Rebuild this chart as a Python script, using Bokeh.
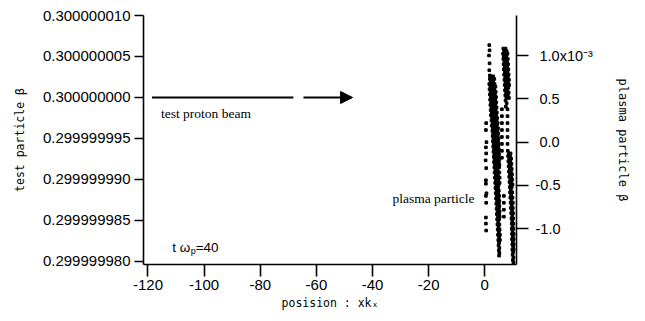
from bokeh.plotting import figure
from bokeh.models import (Range1d, LinearAxis, FixedTicker, PrintfTickFormatter,
                          Label, Arrow, NormalHead)
from bokeh.embed import file_html
from bokeh.resources import INLINE

# ---------------- data ----------------
x_ticks = [-120, -100, -80, -60, -40, -20, 0]
beta_ticks = [0.29999998, 0.299999985, 0.29999999, 0.299999995, 0.3, 0.300000005, 0.30000001]
plasma_ticks = [-1.0, -0.5, 0.0, 0.5, 1.0]
plasma_tick_labels = ["-1.0", "-0.5", "\u00a00.0", "\u00a00.5", "\u00a01.0x10\u207b\u00b3"]

# test proton beam (position, beta)
beam_x = [-118.6, -68.2]
beam_beta = [0.3, 0.3]

# plasma particles: beta in units of 1e-3, rows of (beta, [positions])
sparse_left = [
    (1.12, [1.6]), (1.06, [1.7]), (1.00, [1.5]), (0.91, [1.7]), (0.83, [1.6]), (0.77, [1.8]),
    (0.22, [0.5]), (0.14, [0.4]), (0.00, [0.6]), (-0.06, [0.4]), (-0.13, [0.5]),
    (-0.21, [0.3]), (-0.30, [0.5]), (-0.44, [0.4]), (-0.48, [0.4]), (-0.59, [0.6]),
    (-0.62, [0.4]), (-0.70, [0.5]), (-0.87, [0.4]), (-0.94, [0.4]), (-1.02, [0.5]),
]
main_band = [
    (0.76, [2.2, 3.0]), (0.73, [1.8, 2.6, 3.4]), (0.70, [2.1, 3.0]), (0.67, [1.6, 2.5, 3.5]),
    (0.64, [2.0, 2.9, 3.8]), (0.61, [1.7, 2.6, 3.4]), (0.58, [2.1, 3.0, 3.9]),
    (0.55, [1.8, 2.7, 3.6]), (0.52, [2.2, 3.1, 4.0]), (0.49, [1.9, 2.8, 3.7]),
    (0.46, [2.3, 3.2, 4.1]), (0.43, [2.0, 2.9, 3.8]), (0.40, [2.4, 3.3, 4.2]),
    (0.37, [2.1, 3.0, 3.9]), (0.34, [2.5, 3.4, 4.3]), (0.31, [2.2, 3.1, 4.0]),
    (0.28, [2.6, 3.5, 4.4]), (0.25, [2.4, 3.3, 4.2]), (0.22, [2.8, 3.7, 4.6]),
    (0.19, [2.5, 3.4, 4.3]), (0.16, [2.9, 3.8, 4.7]), (0.13, [2.7, 3.6, 4.5]),
    (0.10, [3.0, 3.9, 4.8]), (0.07, [2.8, 3.7, 4.6]), (0.04, [3.1, 4.0, 4.9]),
    (0.01, [2.9, 3.8, 4.7]), (-0.02, [3.2, 4.1, 5.0]), (-0.05, [3.0, 3.9, 4.8]),
    (-0.08, [3.3, 4.2, 5.0]), (-0.11, [3.1, 4.0, 4.9]), (-0.14, [3.4, 4.3, 5.1]),
    (-0.17, [3.2, 4.1, 4.9]), (-0.20, [3.5, 4.4, 5.2]), (-0.23, [3.3, 4.2, 5.0]),
    (-0.26, [3.6, 4.5, 5.2]), (-0.29, [3.4, 4.3, 5.1]), (-0.32, [3.8, 4.6]),
    (-0.35, [3.5, 4.4, 5.2]), (-0.38, [3.9, 4.7]), (-0.41, [3.6, 4.5, 5.3]),
    (-0.44, [4.0, 4.8]), (-0.47, [3.7, 4.6, 5.3]), (-0.50, [4.1, 4.9]),
    (-0.53, [3.8, 4.7]), (-0.56, [4.2, 5.0]), (-0.59, [3.9, 4.8]), (-0.62, [4.3, 5.1]),
    (-0.65, [4.0, 4.9]), (-0.68, [4.4, 5.2]), (-0.71, [4.1, 5.0]), (-0.74, [4.5, 5.2]),
    (-0.77, [4.2, 5.0]), (-0.80, [4.6, 5.3]), (-0.83, [4.3, 5.1]), (-0.86, [4.7, 5.3]),
    (-0.89, [4.4, 5.1]), (-0.92, [4.8]), (-0.95, [4.5, 5.2]), (-0.98, [4.9]),
    (-1.01, [4.6, 5.3]), (-1.04, [5.0]), (-1.07, [4.7, 5.4]), (-1.10, [5.1]),
    (-1.13, [4.8, 5.4]), (-1.16, [5.1]), (-1.19, [4.9]), (-1.22, [5.2]),
    (-1.25, [5.0]), (-1.28, [5.2]), (-1.31, [5.1]),
]
right_top_band = [
    (1.08, [6.6, 7.4]), (1.05, [6.9, 7.8]), (1.02, [6.5, 7.3, 8.1]), (0.99, [6.8, 7.7]),
    (0.96, [6.6, 7.5, 8.2]), (0.93, [7.0, 7.9]), (0.90, [6.7, 7.6, 8.3]), (0.87, [7.1, 8.0]),
    (0.84, [6.8, 7.7, 8.4]), (0.81, [7.2, 8.1]), (0.78, [6.9, 7.8, 8.5]), (0.75, [7.3, 8.2]),
    (0.72, [7.0, 7.9, 8.6]), (0.69, [7.4, 8.3]), (0.66, [7.1, 8.0, 8.7]), (0.63, [7.5, 8.4]),
    (0.60, [7.2, 8.1]), (0.57, [7.6, 8.5]), (0.54, [7.3, 8.2]), (0.51, [7.7, 8.6]),
    (0.48, [7.4]), (0.45, [7.8]), (0.41, [7.5]),
]
dotted_columns = [
    (0.38, [6.1, 8.1]), (0.30, [6.1, 8.1]), (0.22, [6.1, 8.1]), (0.14, [6.1, 8.1]),
    (0.06, [6.1, 8.1]), (-0.02, [6.1, 8.1]), (-0.10, [6.1]), (-0.18, [6.1]),
    (-0.62, [6.8]), (-0.70, [6.8]), (-0.78, [6.8]), (-0.86, [6.8]),
]
right_bottom_band = [
    (-0.10, [8.2]), (-0.13, [8.6, 9.2]), (-0.16, [8.3, 9.0]), (-0.19, [8.7, 9.4]),
    (-0.22, [8.4, 9.1]), (-0.25, [8.8, 9.5]), (-0.28, [8.5, 9.2]), (-0.31, [8.9, 9.6]),
    (-0.34, [8.6, 9.3]), (-0.37, [9.0, 9.7]), (-0.40, [8.7, 9.4]), (-0.43, [9.1, 9.8]),
    (-0.46, [8.8, 9.5]), (-0.49, [9.2, 9.9]), (-0.52, [8.9, 9.6]), (-0.55, [9.3]),
    (-0.58, [9.0, 9.8]), (-0.61, [9.4]), (-0.64, [9.1, 9.9]), (-0.67, [9.5]),
    (-0.70, [9.2, 10.0]), (-0.73, [9.6]), (-0.76, [9.3, 10.0]), (-0.79, [9.7]),
    (-0.82, [9.4, 10.1]), (-0.85, [9.8]), (-0.88, [9.5, 10.1]), (-0.91, [9.8]),
    (-0.94, [9.6, 10.2]), (-0.97, [9.9]), (-1.00, [9.6, 10.2]), (-1.03, [9.9]),
    (-1.06, [9.7, 10.3]), (-1.09, [10.0]), (-1.12, [9.7, 10.3]), (-1.15, [10.0]),
    (-1.18, [9.8, 10.3]), (-1.21, [10.1]), (-1.24, [9.8, 10.3]), (-1.27, [10.1]),
    (-1.30, [9.9]), (-1.33, [10.2]), (-1.36, [10.0]), (-1.39, [10.2]),
]

plasma_x, plasma_beta = [], []
for band in (sparse_left, main_band, right_top_band, dotted_columns, right_bottom_band):
    for b, xs in band:
        for xv in xs:
            plasma_x.append(xv)
            plasma_beta.append(b)

# ---------------- figure ----------------
TICK_FONT = "Liberation Sans"
LABEL_FONT = "DejaVu Sans Mono"

p = figure(width=645, height=321,
           x_range=Range1d(-121.6, 11.3),
           y_range=Range1d(0.29999997963, 0.30000001),
           output_backend="svg", toolbar_location=None,
           min_border_left=143, min_border_right=129,
           min_border_top=15, min_border_bottom=57)
p.extra_y_ranges = {"plasma": Range1d(-1.412, 1.462)}
p.grid.visible = False
p.outline_line_color = None
p.background_fill_color = "white"
p.border_fill_color = "white"

xa = p.xaxis[0]
xa.ticker = FixedTicker(ticks=x_ticks)
xa.formatter = PrintfTickFormatter(format="%d")
xa.axis_label = "posision : xk\u2093"
xa.major_tick_out = 12
xa.major_tick_in = 0
xa.major_label_standoff = 3
xa.axis_label_standoff = 3

ya = p.yaxis[0]
ya.ticker = FixedTicker(ticks=beta_ticks)
ya.formatter = PrintfTickFormatter(format="%.9f")
ya.axis_label = "test particle \u03b2"
ya.major_tick_out = 9
ya.major_tick_in = 0
ya.major_label_standoff = 4
ya.axis_label_standoff = 13

ra = LinearAxis(y_range_name="plasma", ticker=FixedTicker(ticks=plasma_ticks),
                formatter=PrintfTickFormatter(format="%.1f"),
                major_label_overrides={t: l for t, l in zip(plasma_ticks, plasma_tick_labels)},
                axis_label="plasma particle \u03b2")
ra.major_tick_out = 12
ra.major_tick_in = 0
ra.major_label_standoff = 7
ra.axis_label_standoff = 20
p.add_layout(ra, "right")

for ax in (xa, ya, ra):
    ax.axis_line_width = 1.6
    ax.axis_line_color = "black"
    ax.major_tick_line_width = 1.6
    ax.major_tick_line_color = "black"
    ax.minor_tick_line_color = None
    ax.major_label_text_font = TICK_FONT
    ax.major_label_text_font_size = "15px"
    ax.major_label_text_color = "black"
    ax.axis_label_text_font = LABEL_FONT
    ax.axis_label_text_font_size = "11.5px"
    ax.axis_label_text_font_style = "normal"
    ax.axis_label_text_color = "black"
ra.major_label_text_font_size = "14.5px"
ra.axis_label_text_font_size = "12px"

# test proton beam line and arrow
p.line(beam_x, beam_beta, line_width=2.2, color="black")
p.add_layout(Arrow(x_start=-64.6, y_start=0.3, x_end=-47.1, y_end=0.3,
                   line_width=2, line_color="black",
                   end=NormalHead(size=12, fill_color="black", line_color="black")))

# plasma particles
p.scatter(plasma_x, plasma_beta, y_range_name="plasma", marker="square",
          size=2.6, color="black")

# texts
p.add_layout(Label(x=-115.4, y=0.299999998, text="test proton beam",
                   text_font="Liberation Serif", text_font_size="13.5px",
                   text_baseline="middle", text_color="black"))
p.add_layout(Label(x=-32.9, y=-0.65, y_range_name="plasma", text="plasma particle",
                   text_font="Liberation Serif", text_font_size="13.5px",
                   text_baseline="middle", text_color="black"))
p.add_layout(Label(x=-111.4, y=0.2999999817, text="t \u03c9",
                   text_font=TICK_FONT, text_font_size="13.5px",
                   text_baseline="alphabetic", text_color="black"))
p.add_layout(Label(x=-111.4, y=0.2999999817, x_offset=18.5, y_offset=-3, text="p",
                   text_font=TICK_FONT, text_font_size="9px",
                   text_baseline="alphabetic", text_color="black"))
p.add_layout(Label(x=-111.4, y=0.2999999817, x_offset=23.5, text="=40",
                   text_font=TICK_FONT, text_font_size="13.5px",
                   text_baseline="alphabetic", text_color="black"))

open("out.html", "w").write(file_html(p, INLINE))
